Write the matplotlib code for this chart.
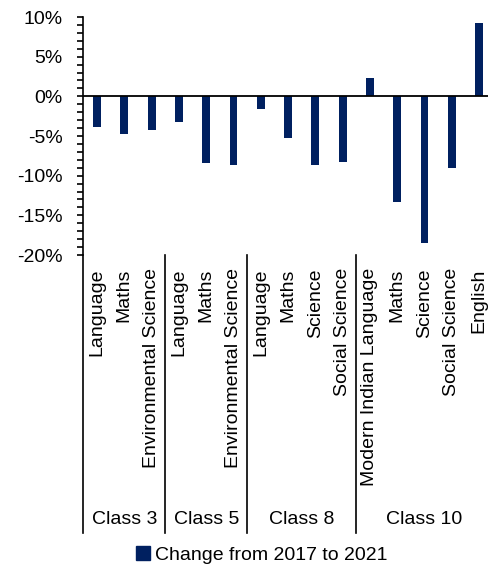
import matplotlib
matplotlib.use("Agg")
import matplotlib.pyplot as plt
from matplotlib.ticker import MultipleLocator, FuncFormatter
from matplotlib.patches import Patch

plt.rcParams['font.family'] = ['Liberation Sans', 'DejaVu Sans']

subjects = ["Language", "Maths", "Environmental Science",
            "Language", "Maths", "Environmental Science",
            "Language", "Maths", "Science", "Social Science",
            "Modern Indian Language", "Maths", "Science", "Social Science", "English"]
values = [-3.9, -4.7, -4.3,
          -3.2, -8.4, -8.7,
          -1.6, -5.2, -8.7, -8.25,
          2.3, -13.3, -18.5, -9.0, 9.3]
groups = ["Class 3", "Class 5", "Class 8", "Class 10"]
group_sizes = [3, 3, 4, 5]
series_name = "Change from 2017 to 2021"
color = "#002060"

W, H = 489, 569
fig = plt.figure(figsize=(W / 100, H / 100), dpi=100)
left_px, top_px, bottom_px = 83.4, 17, 255
slot = 27.29
right_lim = (W - left_px) / slot - 0.5
ax = fig.add_axes([left_px / W, 1 - bottom_px / H, (W - left_px) / W, (bottom_px - top_px) / H])

x = list(range(len(values)))
ax.bar(x, values, width=0.29, color=color, zorder=2)
ax.axhline(0, color="black", lw=1.3, zorder=3)

ax.set_xlim(-0.5, right_lim)
ax.set_ylim(-20, 10)
ax.yaxis.set_major_locator(MultipleLocator(5))
ax.yaxis.set_minor_locator(MultipleLocator(1))
ax.yaxis.set_major_formatter(FuncFormatter(lambda v, p: f"{v:.0f}%"))
ax.tick_params(axis="y", which="both", direction="out", length=4.5, width=1.2,
               labelsize=14, pad=10.5, colors="black")
ax.set_xticks(x)
ax.set_xticklabels(subjects, rotation=90, fontsize=14, ha="center", va="top")
ax.tick_params(axis="x", length=0, pad=9.5)

for s in ["top", "right", "bottom"]:
    ax.spines[s].set_visible(False)
ax.spines["left"].set_linewidth(1.2)

trans = ax.get_xaxis_transform()
sep_bottom = (bottom_px - 533) / (bottom_px - top_px)
label_y = (bottom_px - 519) / (bottom_px - top_px)
start = 0
bounds = [-0.5]
for g, n in zip(groups, group_sizes):
    center = start + (n - 1) / 2
    ax.text(center, label_y, g, transform=trans, ha="center", va="center", fontsize=14)
    start += n
    bounds.append(start - 0.5)
for b in bounds[:-1]:
    ax.plot([b, b], [0, sep_bottom], transform=trans, color="black", lw=1.2, clip_on=False)

handle = Patch(facecolor=color, edgecolor=color)
fig.legend(handles=[handle], labels=[series_name], loc="center",
           bbox_to_anchor=(262 / W, 1 - 555 / H), frameon=False, fontsize=14,
           handlelength=0.7, handleheight=0.7, handletextpad=0.3, borderpad=0)

fig.savefig("out.png", dpi=100)
